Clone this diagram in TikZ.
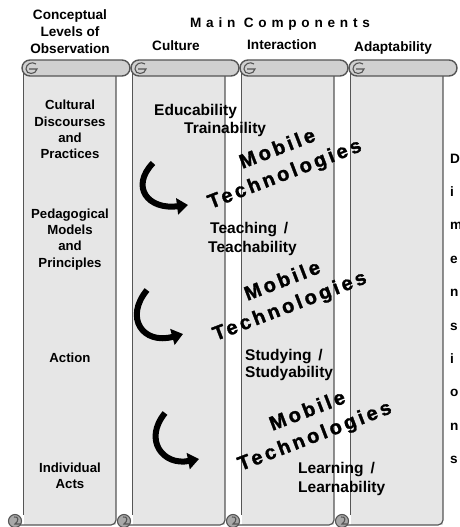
\documentclass[tikz,border=0pt]{standalone}
\usepackage{fontspec}
\setmainfont{Liberation Sans}
\usetikzlibrary{arrows.meta}
\definecolor{sheetgray}{HTML}{E6E6E6}
\definecolor{rollgray}{HTML}{D0D0D0}
\definecolor{edgegray}{HTML}{555555}
\definecolor{curlgray}{HTML}{A8A8A8}
\begin{document}
\begin{tikzpicture}[x=1pt,y=-1pt,
  every node/.style={inner sep=0pt, text=black},
  head/.style={anchor=base, font=\fontsize{13.6}{16}\selectfont\bfseries},
  lvl/.style={anchor=base, font=\fontsize{13.2}{16}\selectfont\bfseries},
  comp/.style={anchor=base west, font=\fontsize{15.5}{18}\selectfont\bfseries},
  mob/.style={rotate=21, font=\fontsize{20}{22}\selectfont\bfseries\addfontfeature{LetterSpace=16,FakeBold=1.5}},
  roll/.style={draw=edgegray, fill=rollgray, line width=1.4pt, rounded corners=8pt},
  sheet/.style={draw=edgegray, line width=1.2pt},
  curl/.style={draw=edgegray, line width=1.1pt},
  turnarrow/.style={line width=6pt, -{Triangle[width=16pt,length=11pt]}}]
\useasboundingbox (0,0) rectangle (459,527);
% the four scrolls
\foreach \x in {22,131,240,349} {
  \fill[sheetgray] (\x+1.5,70) rectangle (\x+94,525);
  \draw[sheet] (\x+1.5,70) -- (\x+1.5,515);
  \draw[sheet, rounded corners=5pt] (\x-4,525) -- (\x+94,525) -- (\x+94,70);
  \draw[roll] (\x,60) rectangle (\x+108,76);
  \draw[curl] (\x+14,64) .. controls (\x+10,61) and (\x+4,64) .. (\x+4,69) .. controls (\x+4,75) and (\x+14,75) .. (\x+15,69) -- (\x+7,69);
  \draw[curl, fill=curlgray] (\x-7,521) circle (6.5);
  \draw[curl] (\x-8,517) .. controls (\x-3,516) and (\x-3,521) .. (\x-7,524) -- (\x-2,524);
}
% headings
\foreach \t/\y in {Conceptual/20, Levels of/37, Observation/53} \node[head] (h\y) at (70,\y) {\t};
\node[head] (main) at (280,28) {\addfontfeature{LetterSpace=35}Main Components};
\node[head, anchor=base west] (cult) at (152,51) {Culture};
\node[head, anchor=base west] (inter) at (247,50) {Interaction};
\node[head, anchor=base west] (adapt) at (354,52) {Adaptability};
% levels of observation
\foreach \t/\y in {Cultural/109, Discourses/126, and/142, Practices/158,
  Pedagogical/218, Models/234, and/250, Principles/267, Action/362,
  Individual/472, Acts/488} \node[lvl] (l\y) at (70,\y) {\t};
% components
\foreach \t/\x/\y in {Educability/154/115, Trainability/184/133,
  {Teaching \,/}/210/233, Teachability/208/252, {Studying \,/}/245/360,
  Studyability/245/377, {Learning \,/}/298/473, Learnability/298/492}
  \node[comp] (c\y) at (\x,\y) {\t};
% mobile technologies
\foreach \i/\x/\y in {1/277/148, 2/282/280, 3/307/410} {
  \node[mob] (m\i) at (\x,\y) {Mobile};
  \node[mob] (t\i) at (\x+8,\y+27) {Technologies};
}
% curved arrows
\coordinate (a1s) at (153,163); \coordinate (a1e) at (188,205);
\coordinate (a2s) at (147,290); \coordinate (a2e) at (183,334);
\coordinate (a3s) at (165,413); \coordinate (a3e) at (199,459);
\draw[turnarrow] (a1s) .. controls (130,187) and (148,210) .. (a1e);
\draw[turnarrow] (a2s) .. controls (124,318) and (143,345) .. (a2e);
\draw[turnarrow] (a3s) .. controls (143,440) and (163,466) .. (a3e);
% dimensions
\foreach \c [count=\i] in {D,i,m,e,n,s,i,o,n,s}
  \node[head, anchor=base west] (d\i) at (450,{163+33.4*(\i-1)}) {\c};
\end{tikzpicture}
\end{document}
